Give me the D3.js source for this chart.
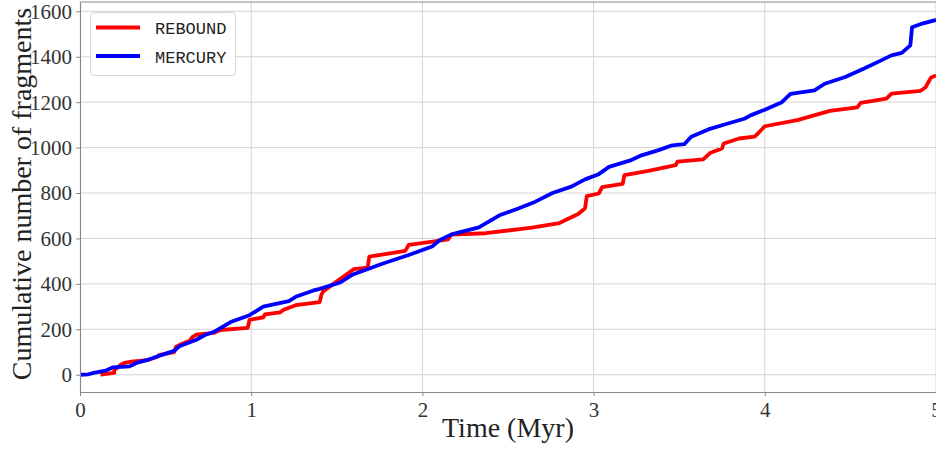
<!DOCTYPE html>
<html>
<head>
<meta charset="utf-8">
<script src="https://cdn.jsdelivr.net/npm/d3@7"></script>
<style>
  body { margin: 0; background: #fff; }
  svg { display: block; }
</style>
</head>
<body>
<div class="chart"></div>
<script>
// tick labels
let xTicks = [0, 1, 2, 3, 4, 5],
    yTicks = [0, 200, 400, 600, 800, 1000, 1200, 1400, 1600];

// REBOUND series (time in Myr, cumulative fragments)
let reboundT = [0.12, 0.20, 0.20, 0.24, 0.26, 0.30, 0.39, 0.45, 0.46, 0.55, 0.56, 0.59, 0.64, 0.66, 0.68, 0.78, 0.82, 0.98, 0.99,
                1.07, 1.08, 1.17, 1.19, 1.26, 1.40, 1.41, 1.42, 1.48, 1.54, 1.60, 1.68, 1.69, 1.90, 1.92, 2.06, 2.15, 2.17,
                2.37, 2.64, 2.80, 2.91, 2.95, 2.96, 3.03, 3.05, 3.17, 3.18, 3.32, 3.48, 3.49, 3.64, 3.68, 3.75, 3.76, 3.85,
                3.94, 3.96, 4.00, 4.19, 4.38, 4.54, 4.56, 4.71, 4.74, 4.91, 4.94, 4.97, 5.00],
    reboundN = [0, 8, 20, 45, 52, 58, 64, 78, 86, 100, 122, 134, 150, 168, 176, 184, 197, 206, 242,
                252, 266, 275, 286, 306, 320, 352, 366, 400, 432, 465, 472, 520, 545, 572, 586, 596, 617,
                623, 648, 668, 708, 733, 786, 798, 826, 840, 879, 898, 923, 938, 948, 976, 996, 1018, 1040,
                1048, 1062, 1094, 1121, 1162, 1177, 1197, 1216, 1238, 1250, 1266, 1308, 1318];

// MERCURY series
let mercuryT = [0, 0.05, 0.08, 0.15, 0.19, 0.29, 0.33, 0.39, 0.45, 0.51, 0.55, 0.58, 0.68, 0.73, 0.78, 0.88, 0.99,
                1.07, 1.22, 1.26, 1.36, 1.40, 1.52, 1.59, 1.77, 1.92, 2.06, 2.10, 2.17, 2.33, 2.45, 2.56, 2.66, 2.76,
                2.87, 2.95, 3.03, 3.09, 3.22, 3.28, 3.38, 3.46, 3.53, 3.57, 3.67, 3.77, 3.88, 3.92, 4.00, 4.10, 4.15,
                4.29, 4.35, 4.47, 4.58, 4.68, 4.74, 4.80, 4.85, 4.86, 4.92, 5.00],
    mercuryN = [0, 2, 8, 18, 32, 37, 52, 64, 80, 95, 105, 125, 154, 175, 188, 232, 262,
                300, 324, 343, 370, 378, 406, 440, 490, 527, 566, 592, 618, 649, 702, 732, 762, 800,
                828, 860, 883, 915, 945, 966, 989, 1010, 1015, 1048, 1080, 1103, 1127, 1143, 1167, 1200, 1236,
                1252, 1281, 1311, 1348, 1384, 1406, 1417, 1450, 1530, 1546, 1562];

let seriesNames = ['REBOUND', 'MERCURY'],
    seriesColors = ['#ff0000', '#0000ff'];

let W = 936, H = 451,
    m = {l: 80, r: 0, t: 2, b: 59},
    svg = d3.select('.chart').append('svg').attr('width', W).attr('height', H),
    x = d3.scaleLinear().domain([0, 5]).range([m.l, W - m.r]),
    y = d3.scaleLinear().domain([-76, 1641]).range([H - m.b, m.t]),
    serif = '"Liberation Serif", "DejaVu Serif", serif',
    mono = '"Liberation Mono", "DejaVu Sans Mono", monospace';

svg.append('clipPath').attr('id', 'plotclip')
    .append('rect')
    .attr('x', m.l).attr('y', m.t)
    .attr('width', W - m.r - m.l).attr('height', H - m.b - m.t);

// grid
svg.append('g').selectAll('line').data(yTicks).enter().append('line')
    .attr('x1', m.l).attr('x2', W)
    .attr('y1', d => y(d)).attr('y2', d => y(d))
    .attr('stroke', '#d4d4d4').attr('stroke-width', 1);
svg.append('g').selectAll('line').data(xTicks.slice(1)).enter().append('line')
    .attr('x1', d => x(d)).attr('x2', d => x(d))
    .attr('y1', m.t).attr('y2', H - m.b)
    .attr('stroke', '#d4d4d4').attr('stroke-width', 1);

// lines
let line = d3.line().x(d => x(d[0])).y(d => y(d[1])),
    reboundData = reboundT.map((t, i) => [t, reboundN[i]]),
    mercuryData = mercuryT.map((t, i) => [t, mercuryN[i]]);

let plot = svg.append('g').attr('clip-path', 'url(#plotclip)');
[reboundData, mercuryData].forEach((dat, i) => {
    plot.append('path')
        .datum(dat)
        .attr('d', line)
        .attr('fill', 'none')
        .attr('stroke', seriesColors[i])
        .attr('stroke-width', 3.8)
        .attr('stroke-linejoin', 'round');
});

// axes
let xAxis = svg.append('g')
    .attr('transform', `translate(0, ${H - m.b})`)
    .call(d3.axisBottom(x).tickValues(xTicks).tickFormat(d3.format('d'))
        .tickSize(4).tickPadding(5).tickSizeOuter(0));
let yAxis = svg.append('g')
    .attr('transform', `translate(${m.l}, 0)`)
    .call(d3.axisLeft(y).tickValues(yTicks).tickFormat(d3.format('d'))
        .tickSize(4).tickPadding(4).tickSizeOuter(0));

[xAxis, yAxis].forEach(a => {
    a.select('.domain').attr('stroke', '#888').attr('stroke-width', 1.2);
    a.selectAll('.tick line').attr('stroke', '#888');
    a.selectAll('.tick text')
        .attr('font-family', serif)
        .attr('font-size', 21)
        .attr('fill', '#333');
});
xAxis.selectAll('.tick text').attr('dy', '0.75em');
yAxis.selectAll('.tick text').attr('dy', '0.33em');

// top spine
svg.append('line')
    .attr('x1', m.l).attr('x2', W).attr('y1', m.t).attr('y2', m.t)
    .attr('stroke', '#888').attr('stroke-width', 1.2);

// axis labels
svg.append('text')
    .attr('x', (m.l + W) / 2).attr('y', 437)
    .attr('text-anchor', 'middle')
    .attr('font-family', serif).attr('font-size', 28).attr('fill', '#222')
    .text('Time (Myr)');

svg.append('text')
    .attr('transform', `translate(31, ${(m.t + H - m.b) / 2 - 3}) rotate(-90)`)
    .attr('text-anchor', 'middle')
    .attr('font-family', serif).attr('font-size', 28).attr('fill', '#222')
    .text('Cumulative number of fragments');

// legend
let legend = svg.append('g');
legend.append('rect')
    .attr('x', 90.5).attr('y', 12.5).attr('width', 145).attr('height', 63)
    .attr('rx', 4)
    .attr('fill', 'rgba(255,255,255,0.85)').attr('stroke', '#d8d8d8');

seriesNames.forEach((name, i) => {
    let ly = 27.5 + i * 28.5;
    legend.append('line')
        .attr('x1', 96).attr('x2', 140).attr('y1', ly).attr('y2', ly)
        .attr('stroke', seriesColors[i]).attr('stroke-width', 3.8);
    legend.append('text')
        .attr('x', 155).attr('y', ly + 6.5)
        .attr('font-family', mono).attr('font-size', 17).attr('fill', '#222')
        .text(name);
});
</script>
</body>
</html>
